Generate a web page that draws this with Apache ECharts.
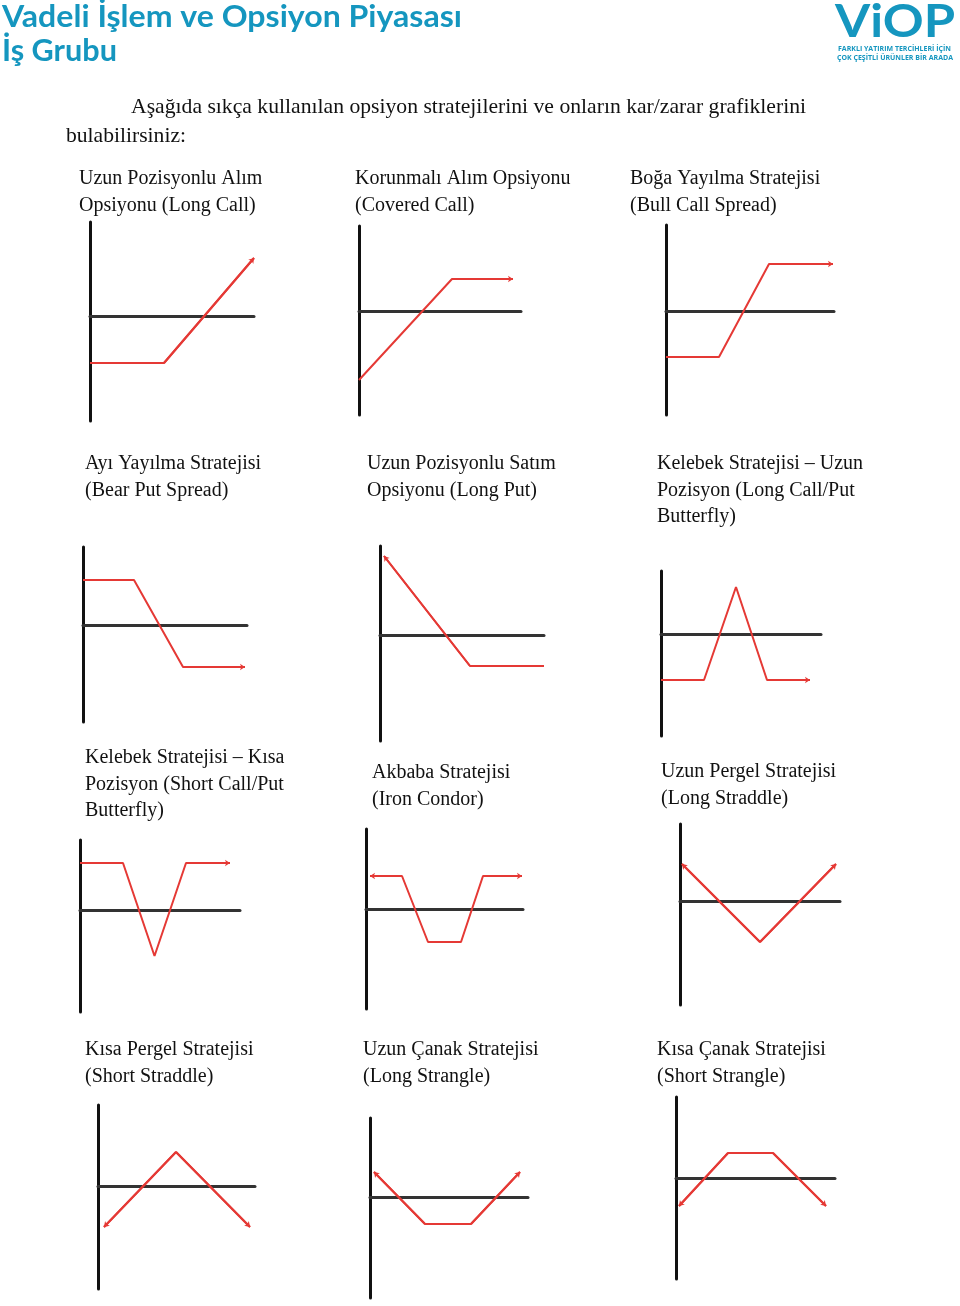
<!DOCTYPE html>
<html><head><meta charset="utf-8">
<script src="https://cdn.jsdelivr.net/npm/echarts@6.0.0/dist/echarts.min.js"></script>
<style>html,body{margin:0;padding:0;background:#fff}#c{width:960px;height:1306px}</style>
</head><body><div id="c"></div>
<script>
// ---- DATA (payoff points: [price offset, profit]) ----
const longCall        = [[0,-47],[74,-47],[164,58]];
const coveredCall     = [[0,-69],[93,32],[154,32]];
const bullCallSpread  = [[0,-46],[53,-46],[103,47],[167,47]];
const bearPutSpread   = [[0,45],[51,45],[100,-42],[162,-42]];
const longPut         = [[4,79],[90,-31],[164,-31]];
const longButterfly   = [[0,-46],[43,-46],[75,47],[106,-46],[149,-46]];
const shortButterfly  = [[0,47],[43,47],[74.5,-46],[106,47],[150,47]];
const ironCondor      = [[4,33],[36,33],[62,-33],[95,-33],[117,33],[156,33]];
const longStraddle    = [[2,37],[80,-41],[156,37]];
const shortStraddle   = [[6,-41],[78,34],[152,-41]];
const longStrangle    = [[4,25],[55,-27],[101,-27],[150,25]];
const shortStrangle   = [[3,-28],[52,25],[97,25],[150,-28]];
const strategies = [longCall, coveredCall, bullCallSpread, bearPutSpread, longPut, longButterfly,
                    shortButterfly, ironCondor, longStraddle, shortStraddle, longStrangle, shortStrangle];

const titles = [
  ['Uzun Pozisyonlu Alım','Opsiyonu (Long Call)'],
  ['Korunmalı Alım Opsiyonu','(Covered Call)'],
  ['Boğa Yayılma Stratejisi','(Bull Call Spread)'],
  ['Ayı Yayılma Stratejisi','(Bear Put Spread)'],
  ['Uzun Pozisyonlu Satım','Opsiyonu (Long Put)'],
  ['Kelebek Stratejisi – Uzun','Pozisyon (Long Call/Put','Butterfly)'],
  ['Kelebek Stratejisi – Kısa','Pozisyon (Short Call/Put','Butterfly)'],
  ['Akbaba Stratejisi','(Iron Condor)'],
  ['Uzun Pergel Stratejisi','(Long Straddle)'],
  ['Kısa Pergel Stratejisi','(Short Straddle)'],
  ['Uzun Çanak Stratejisi','(Long Strangle)'],
  ['Kısa Çanak Stratejisi','(Short Strangle)']
];
const headerLines = ['Vadeli İşlem ve Opsiyon Piyasası','İş Grubu'];
const logoText = 'ViOP';
const logoSub = ['FARKLI YATIRIM TERCİHLERİ İÇİN','ÇOK ÇEŞİTLİ ÜRÜNLER BİR ARADA'];
const introLines = ['Aşağıda sıkça kullanılan opsiyon stratejilerini ve onların kar/zarar grafiklerini','bulabilirsiniz:'];

// ---- LAYOUT ----
// [axisX, axisTop, axisBottom, zeroY, axisRight]
const boxes = [
  [90,222,421,316,254],[359,226,415,311,521],[666,225,415,311,834],
  [83,547,722,625,247],[380,546,741,635,544],[661,571,736,634,821],
  [80,840,1012,910,240],[366,829,1009,909,523],[680,824,1005,901,840],
  [98,1105,1289,1186,255],[370,1118,1298,1197,528],[676,1097,1279,1178,835]
];
// [start arrow, end arrow]
const arrowFlags = [[0,1],[0,1],[0,1],[0,1],[1,0],[0,1],[0,1],[1,1],[1,1],[1,1],[1,1],[1,1]];
const labelPos = [[79,179],[355,179],[630,179],[85,464],[367,464],[657,464],
                  [85,758],[372,773],[661,772],[85,1050],[363,1050],[657,1050]];
const RED = '#e53935', TEAL = '#1596bf';

const mctx = document.createElement('canvas').getContext('2d');
function fit(text, font, target){ mctx.font = font; return target / mctx.measureText(text).width; }

const grid = [], xAxis = [], yAxis = [], series = [];
boxes.forEach((b, i) => {
  const [vx, vt, vb, hy, hr] = b;
  grid.push({left: vx, top: vt, width: hr - vx, height: vb - vt});
  xAxis.push({type:'value', gridIndex:i, min:0, max:hr - vx,
    axisLine:{show:true, onZero:true, lineStyle:{color:'#333', width:3}},
    axisTick:{show:false}, axisLabel:{show:false}, splitLine:{show:false}});
  yAxis.push({type:'value', gridIndex:i, min:-(vb - hy), max:hy - vt,
    axisLine:{show:true, onZero:false, lineStyle:{color:'#111', width:3}},
    axisTick:{show:false}, axisLabel:{show:false}, splitLine:{show:false}});
  const pts = strategies[i];
  series.push({type:'line', xAxisIndex:i, yAxisIndex:i, data:pts, symbol:'none', showSymbol:false,
    lineStyle:{color:RED, width:2}, silent:true, z:5});
  const segs = [];
  const n = pts.length;
  if (arrowFlags[i][0]) segs.push({coords:[pts[1], pts[0]]});
  if (arrowFlags[i][1]) segs.push({coords:[pts[n-2], pts[n-1]]});
  series.push({type:'lines', coordinateSystem:'cartesian2d', xAxisIndex:i, yAxisIndex:i,
    symbol:['none','arrow'], symbolSize:5, data:segs, silent:true, z:6,
    lineStyle:{color:RED, width:2, opacity:1}});
});

const graphics = [];
function txt(text, x, y, font, fill, target){
  const el = {type:'text', x:x, y:y, silent:true,
    style:{text:text, font:font, fill:fill, align:'left', verticalAlign:'middle'}};
  if (target) el.scaleX = fit(text, font, target);
  graphics.push(el);
}
txt(headerLines[0], 2, 17, 'bold 30px Lato', TEAL, 460);
txt(headerLines[1], 2, 51, 'bold 30px Lato', TEAL, 115);
txt(logoText, 835, 22, 'bold 46px Lato', TEAL, 120);
txt(logoSub[0], 838, 49, 'bold 7px "Open Sans"', TEAL, 113);
txt(logoSub[1], 837, 58, 'bold 7px "Open Sans"', TEAL, 116);
const serif = '20px "Liberation Serif"';
const serifL = '21.5px "Liberation Serif"';
txt(introLines[0], 131, 107, serifL, '#111', 675);
txt(introLines[1], 66, 136, serifL, '#111', 120);
titles.forEach((t, i) => {
  t.forEach((line, k) => txt(line, labelPos[i][0], labelPos[i][1] + k*26.5, serif, '#111'));
});

const chart = echarts.init(document.getElementById('c'), null, {renderer:'canvas'});
chart.setOption({animation:false, backgroundColor:'#fff', grid, xAxis, yAxis, series, graphic:{elements:graphics}});
</script></body></html>
